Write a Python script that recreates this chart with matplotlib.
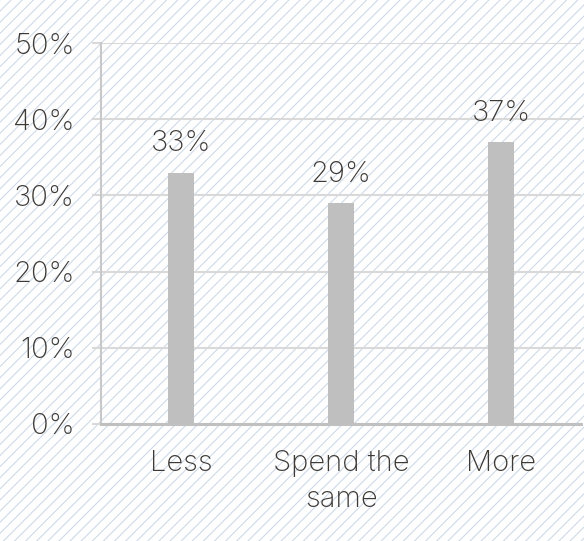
import matplotlib.pyplot as plt
from matplotlib.patches import Rectangle

categories = ["Less", "Spend the\nsame", "More"]
shares = [0.33, 0.29, 0.37]
yticks = [0, 0.1, 0.2, 0.3, 0.4, 0.5]

text_color = "#3d3935"
weight = 200
plt.rcParams["font.family"] = ["Inter", "DejaVu Sans"]
plt.rcParams["hatch.linewidth"] = 0.8
plt.rcParams["hatch.color"] = "#cfdae8"

fig = plt.figure(figsize=(5.84, 5.41), dpi=100)
# striped backdrop over the whole figure
fig.patches.append(Rectangle((0, 0), 1, 1, transform=fig.transFigure,
                             facecolor="white", edgecolor="#cfdae8",
                             hatch="///", linewidth=0, zorder=-10))
fig.patch.set_alpha(0)

ax = fig.add_axes([0.173, 0.2163, 0.822, 0.7042])
ax.patch.set_alpha(0)

x = range(len(categories))
bars = ax.bar(x, shares, width=0.165, color="#bfbfbf", zorder=3)
for b, v in zip(bars, shares):
    ax.annotate(f"{v:.0%}", (b.get_x() + b.get_width() / 2, v),
                xytext=(0, 11), textcoords="offset points",
                ha="center", va="bottom", fontsize=21, fontweight=weight,
                color=text_color)

ax.set_xlim(-0.5, 2.5)
ax.set_ylim(0, 0.5)
ax.set_yticks(yticks)
ax.set_yticklabels([f"{t:.0%}" for t in yticks], fontweight=weight)
ax.set_xticks(list(x))
ax.set_xticklabels(categories, linespacing=1.4, fontweight=weight)
ax.yaxis.grid(True, color="#d9d9d9", linewidth=1.5, zorder=0)

ax.tick_params(axis="y", length=6.5, width=1.5, color="#d9d9d9",
               labelsize=21, labelcolor=text_color, pad=12.5)
ax.tick_params(axis="x", length=0, labelsize=21, labelcolor=text_color, pad=19)

for s in ["top", "right"]:
    ax.spines[s].set_visible(False)
ax.spines["left"].set_color("#c8c8c8")
ax.spines["left"].set_linewidth(1.5)
ax.spines["bottom"].set_color("#c0c0c0")
ax.spines["bottom"].set_linewidth(2.2)

plt.savefig("out.png", dpi=100)
